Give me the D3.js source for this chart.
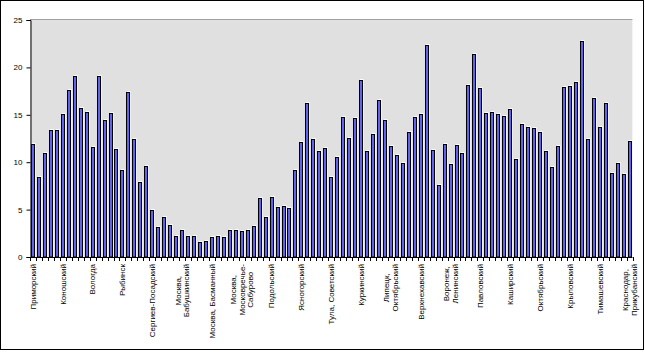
<!DOCTYPE html>
<html>
<head>
<meta charset="utf-8">
<script src="https://cdn.jsdelivr.net/npm/d3@7"></script>
<style>
  body { margin: 0; background: #fff; }
  text { font-family: Arial, "Liberation Sans", sans-serif; }
</style>
</head>
<body>
<div class="chart"></div>
<script>
// values per district, left to right
var values = [
  11.9, 8.4, 11.0, 13.4, 13.4, 15.1, 17.6, 19.1, 15.7, 15.3,
  11.6, 19.1, 14.4, 15.2, 11.4, 9.2, 17.4, 12.5, 7.9, 9.6,
  5.0, 3.2, 4.2, 3.4, 2.2, 2.9, 2.2, 2.2, 1.6, 1.7,
  2.1, 2.2, 2.1, 2.8, 2.9, 2.7, 2.9, 3.3, 6.2, 4.2,
  6.3, 5.3, 5.4, 5.2, 9.2, 12.1, 16.2, 12.4, 11.2, 11.5,
  8.4, 10.6, 14.8, 12.6, 14.7, 18.7, 11.2, 13.0, 16.6, 14.5,
  11.7, 10.8, 9.9, 13.2, 14.8, 15.1, 22.4, 11.3, 7.6, 11.9,
  9.8, 11.8, 11.0, 18.1, 21.4, 17.8, 15.2, 15.3, 15.1, 14.9,
  15.6, 10.3, 14.0, 13.7, 13.6, 13.2, 11.2, 9.5, 11.7, 17.9,
  18.0, 18.5, 22.8, 12.5, 16.8, 13.7, 16.2, 8.9, 9.9, 8.8,
  12.2
];

// every fifth category carries a label
var labelIndex = [0, 5, 10, 15, 20, 25, 30, 35, 40, 45, 50, 55, 60, 65, 70, 75, 80, 85, 90, 95, 100];
var labelText = [
  'Приморский', 'Коношский', 'Вологда', 'Рыбинск', 'Сергиев-Посадский',
  'Москва,\nБабушкинский', 'Москва, Басманный', 'Москва,\nМосковречье-\nСабурово',
  'Подольский', 'Ясногорский', 'Тула, Советский', 'Куркинский',
  'Липецк,\nОктябрьский', 'Верхнехавский', 'Воронеж,\nЛенинский', 'Павловский',
  'Каширский', 'Октябрьский', 'Крыловский', 'Тимашевский', 'Краснодар,\nПрикубанский'
];

var yTicks = [0, 5, 10, 15, 20, 25];

function drawChart() {
    var W = 645, H = 352;
    var pLeft = 30, pRight = 632.5, pTop = 20, pBottom = 257;

    var svg = d3.select('.chart')
        .append('svg')
        .attr('width', W)
        .attr('height', H);

    // outer frame
    svg.append('rect')
        .attr('x', 0.5).attr('y', 0.5)
        .attr('width', 643).attr('height', 349)
        .attr('fill', '#fff')
        .attr('stroke', '#000');

    var x = d3.scaleBand()
        .domain(d3.range(values.length))
        .range([pLeft, pRight])
        .paddingInner(0.3)
        .paddingOuter(0.15);

    var y = d3.scaleLinear()
        .domain([0, 25])
        .range([pBottom, pTop]);

    // centre of a category, snapped to the pixel grid
    function cx(i) { return Math.round(x(i) + x.bandwidth() / 2); }

    // plot area
    svg.append('rect')
        .attr('x', pLeft).attr('y', pTop)
        .attr('width', pRight - pLeft).attr('height', pBottom - pTop)
        .attr('fill', '#e0e0e0');
    svg.append('line')
        .attr('x1', pLeft).attr('x2', pRight)
        .attr('y1', pTop - 0.5).attr('y2', pTop - 0.5)
        .attr('stroke', '#a0a0a0');
    svg.append('line')
        .attr('x1', pRight + 0.5).attr('x2', pRight + 0.5)
        .attr('y1', pTop).attr('y2', pBottom)
        .attr('stroke', '#fff')
        .attr('stroke-dasharray', '1,1');

    // bars: a white edge behind, then the blue bar
    var bars = svg.append('g');
    bars.selectAll('rect.hl')
        .data(values)
        .enter()
            .append('rect')
            .attr('class', 'hl')
            .attr('x', function(d, i) { return cx(i) - 0.5; })
            .attr('y', function(d) { return Math.round(y(d)) - 0.5; })
            .attr('width', 2.5)
            .attr('height', function(d) { return pBottom - Math.round(y(d)); })
            .attr('fill', 'none')
            .attr('stroke', '#fff');
    bars.selectAll('rect.bar')
        .data(values)
        .enter()
            .append('rect')
            .attr('class', 'bar')
            .attr('x', function(d, i) { return cx(i) - 1.5; })
            .attr('y', function(d) { return Math.round(y(d)) + 0.5; })
            .attr('width', 3)
            .attr('height', function(d) { return pBottom - Math.round(y(d)) - 0.5; })
            .attr('fill', '#6262f0')
            .attr('stroke', '#000');

    // y axis
    var yAxis = d3.axisLeft(y)
        .tickValues(yTicks)
        .tickSize(4)
        .tickPadding(4);
    var gy = svg.append('g')
        .attr('transform', 'translate(' + (pLeft + 0.5) + ',0)')
        .call(yAxis);
    gy.select('.domain').attr('stroke', '#000');
    gy.selectAll('text').attr('font-size', 8).attr('fill', '#000');

    // x axis line with ticks between categories
    var step = x.step();
    var edges = d3.range(values.length + 1).map(function(i) {
        return x(0) - step * x.paddingInner() / 2 + i * step;
    });
    svg.append('line')
        .attr('x1', pLeft).attr('x2', pRight)
        .attr('y1', pBottom + 0.5).attr('y2', pBottom + 0.5)
        .attr('stroke', '#000');
    svg.append('g').selectAll('line')
        .data(edges)
        .enter()
            .append('line')
            .attr('x1', function(d) { return Math.round(d) + 0.5; })
            .attr('x2', function(d) { return Math.round(d) + 0.5; })
            .attr('y1', pBottom)
            .attr('y2', pBottom + 4)
            .attr('stroke', '#000');

    // rotated category labels
    var lineH = 8.5;
    var labels = svg.append('g').selectAll('g')
        .data(labelIndex)
        .enter()
            .append('g')
            .attr('transform', function(d) {
                return 'translate(' + (x(d) + x.bandwidth() / 2) + ',264) rotate(-90)';
            });

    labels.each(function(d, k) {
        var lines = labelText[k].split('\n');
        var g = d3.select(this);
        var texts = g.selectAll('text')
            .data(lines)
            .enter()
                .append('text')
                .attr('font-size', 8)
                .attr('fill', '#000')
                .attr('dy', '0.35em')
                .attr('y', function(t, j) { return (j - (lines.length - 1) / 2) * lineH; })
                .text(function(t) { return t; });
        var maxLen = 0;
        texts.each(function() { maxLen = Math.max(maxLen, this.getComputedTextLength()); });
        texts.attr('text-anchor', 'middle').attr('x', -maxLen / 2);
    });
}

drawChart();
</script>
</body>
</html>
